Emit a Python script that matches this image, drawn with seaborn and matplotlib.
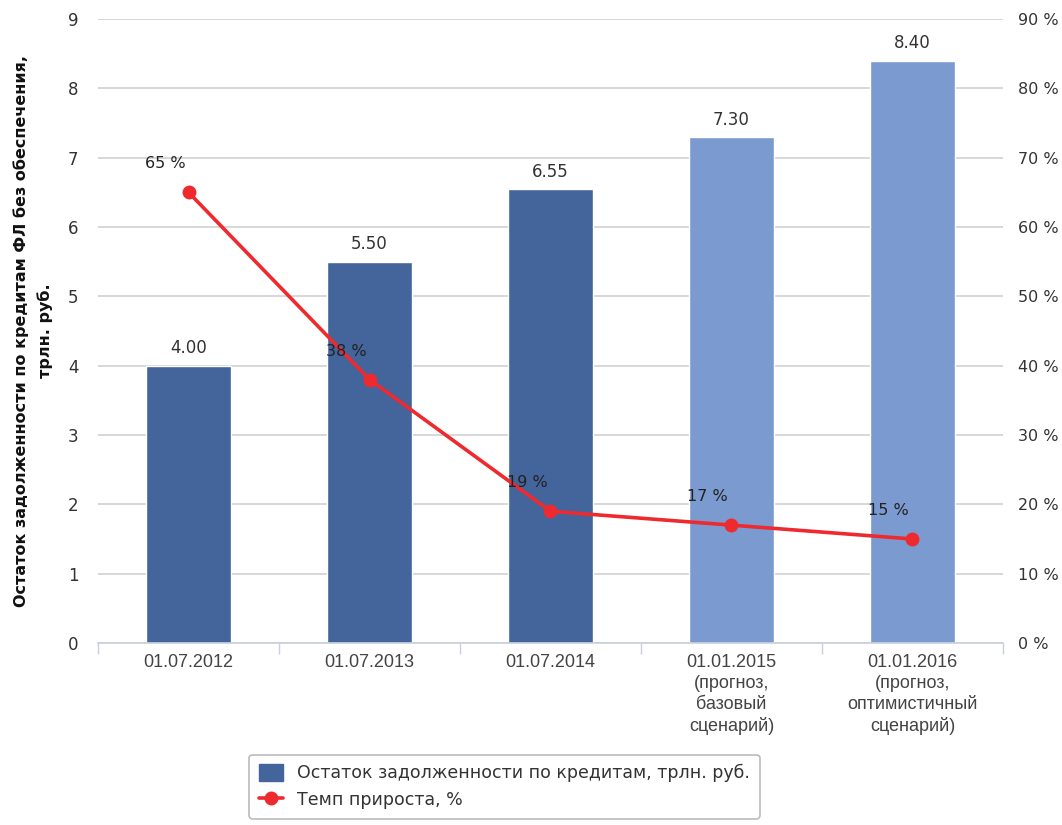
import numpy as np
import matplotlib
matplotlib.use("Agg")
import matplotlib.pyplot as plt
import seaborn as sns
from matplotlib.patches import Patch
from matplotlib.lines import Line2D

categories = ["01.07.2012", "01.07.2013", "01.07.2014",
              "01.01.2015\n(прогноз,\nбазовый\nсценарий)",
              "01.01.2016\n(прогноз,\nоптимистичный\nсценарий)"]
debt = [4.00, 5.50, 6.55, 7.30, 8.40]
growth = [65, 38, 19, 17, 15]
left_ticks = list(range(0, 10))
right_ticks = list(range(0, 100, 10))

bar_colors = ["#44649C", "#44649C", "#44649C", "#7A9AD0", "#7A9AD0"]
red = "#EE2A2F"
text_color = "#333333"
grid_color = "#D4D4D4"

sns.set_theme(style="white")
plt.rcParams["font.family"] = ["DejaVu Sans"]

fig = plt.figure(figsize=(10.62, 8.25), dpi=100)
ax = fig.add_axes([0.0923, 0.2206, 0.8521, 0.7564])

sns.barplot(x=list(range(len(categories))), y=debt, hue=list(range(len(categories))),
            palette=bar_colors, legend=False, width=0.465, ax=ax,
            saturation=1, native_scale=True, zorder=2)
ax.set_xlim(-0.5, len(categories) - 0.5)
ax.set_ylim(0, 9)
ax.set_yticks(left_ticks)
ax.set_yticklabels([str(t) for t in left_ticks])
ax.yaxis.grid(True, color=grid_color, linewidth=1.3, zorder=0)
ax.set_axisbelow(True)

ax.set_xticks(range(len(categories)))
ax.set_xticklabels(categories, family=["Liberation Sans Narrow", "Liberation Sans"],
                   fontsize=13, color="#444444", linespacing=1.3)
ax.set_xticks(np.arange(-0.5, len(categories)), minor=True)
ax.tick_params(axis="x", which="major", length=0, pad=8)
ax.tick_params(axis="x", which="minor", length=8, color="#C8D0DC", width=1, direction="out", bottom=True)
ax.tick_params(axis="y", length=0, pad=14, labelsize=12, labelcolor=text_color)
for s in ["top", "right", "left"]:
    ax.spines[s].set_visible(False)
ax.spines["bottom"].set_color("#C8D0DC")
ax.spines["bottom"].set_linewidth(1.2)

ax.set_ylabel("Остаток задолженности по кредитам ФЛ без обеспечения,\nтрлн. руб.",
              fontsize=11.5, fontweight="bold", color="#111111", labelpad=11,
              linespacing=1.6)

for i, v in enumerate(debt):
    ax.annotate(f"{v:.2f}", (i, v), xytext=(0, 6), textcoords="offset points",
                ha="center", va="bottom", fontsize=12, color=text_color)

ax2 = ax.twinx()
sns.lineplot(x=list(range(len(growth))), y=growth, ax=ax2, color=red, linewidth=2.6,
             marker="o", markersize=10, markeredgewidth=0, zorder=3)
ax2.set_ylim(0, 90)
ax2.set_yticks(right_ticks)
ax2.set_yticklabels([f"{t} %" for t in right_ticks])
ax2.tick_params(axis="y", length=0, pad=11, labelsize=11.5, labelcolor=text_color)
ax2.grid(False)
for s in ax2.spines.values():
    s.set_visible(False)

for i, g in enumerate(growth):
    ax2.annotate(f"{g} %", (i, g), xytext=(-17, 15), textcoords="offset points",
                 ha="center", va="bottom", fontsize=11.5, color="#222222")

handles = [Patch(facecolor="#44649C", edgecolor="#44649C", label="Остаток задолженности по кредитам, трлн. руб."),
           Line2D([0], [0], color=red, linewidth=2.6, marker="o", markersize=9,
                  label="Темп прироста, %")]
leg = fig.legend(handles=handles, loc="center", bbox_to_anchor=(0.475, 0.0465),
                 frameon=True, fontsize=12.5, labelcolor="#333333",
                 handlelength=1.4, handleheight=1.1, borderpad=0.55,
                 labelspacing=0.5, fancybox=True, edgecolor="#AAAAAA")
leg.get_frame().set_linewidth(1.2)

fig.savefig("out.png", dpi=100)
